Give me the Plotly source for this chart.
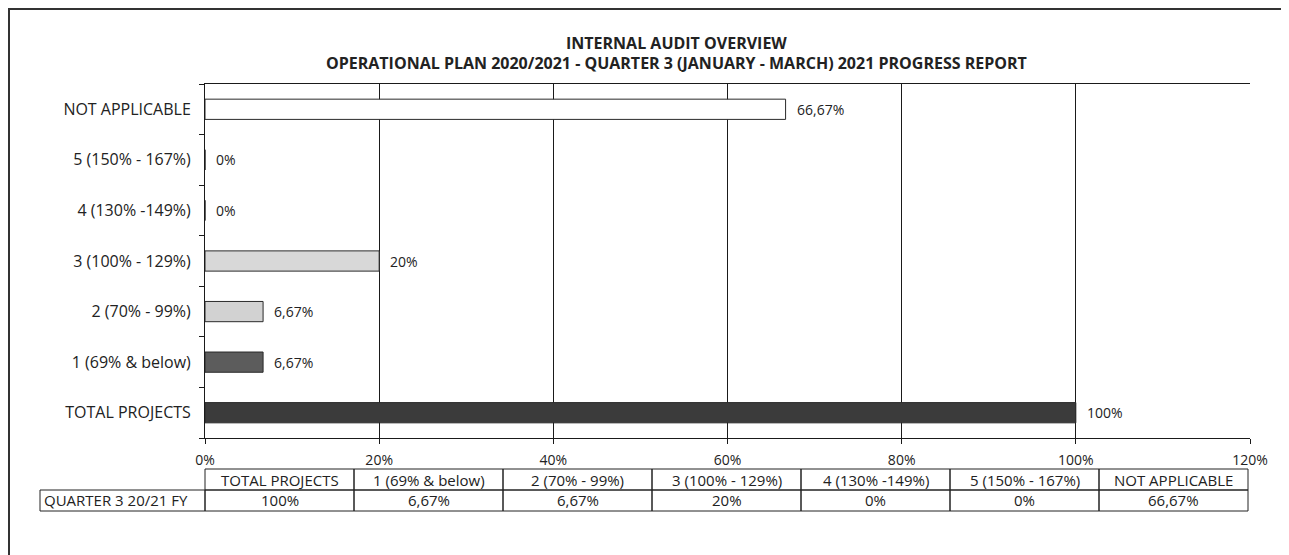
import plotly.graph_objects as go

# chart data (bottom to top on the y axis)
categories = [
    "TOTAL PROJECTS",
    "1 (69% & below)",
    "2 (70% - 99%)",
    "3 (100% - 129%)",
    "4 (130% -149%)",
    "5 (150% - 167%)",
    "NOT APPLICABLE",
]
values = [100, 6.67, 6.67, 20, 0, 0, 66.67]
value_labels = ["100%", "6,67%", "6,67%", "20%", "0%", "0%", "66,67%"]
bar_colors = ["#3b3b3b", "#5c5c5c", "#d2d2d2", "#d8d8d8", "#ffffff", "#ffffff", "#ffffff"]

x_ticks = [0, 20, 40, 60, 80, 100, 120]
x_tick_labels = ["0%", "20%", "40%", "60%", "80%", "100%", "120%"]

table_row_name = "QUARTER 3 20/21 FY"
table_headers = categories
table_values = value_labels

title_lines = [
    "INTERNAL AUDIT OVERVIEW",
    "OPERATIONAL PLAN 2020/2021 - QUARTER 3 (JANUARY - MARCH) 2021 PROGRESS REPORT",
]

W, H = 1281, 547
OFF = 8  # page body margin, screen px = figure px + OFF
# plot area in screen pixels
SL, SR, ST, SB = 205, 1250, 84, 438
FONT = "Open Sans"
INK = "#222"


def px_x(px):
    return (px - SL) / (SR - SL)


def px_y(py):
    return (SB - py) / (SB - ST)


fig = go.Figure()
fig.add_trace(
    go.Bar(
        y=categories,
        x=values,
        orientation="h",
        marker=dict(color=bar_colors, line=dict(color="#2a2a2a", width=1)),
        width=0.4,
        hoverinfo="x+y",
    )
)

# value labels next to the bar ends
for cat, val, lab in zip(categories, values, value_labels):
    fig.add_annotation(
        x=val, y=cat, text=lab, showarrow=False,
        xanchor="left", yanchor="middle", xshift=9,
        font=dict(size=14, color=INK),
    )

fig.update_layout(
    width=W,
    height=H,
    margin=dict(l=SL - OFF, r=W - (SR - OFF), t=ST - OFF, b=H - (SB - OFF), autoexpand=False),
    plot_bgcolor="white",
    paper_bgcolor="white",
    showlegend=False,
    font=dict(family=FONT, size=13, color=INK),
    xaxis=dict(
        range=[0, 120],
        tickvals=x_ticks,
        ticktext=x_tick_labels,
        showgrid=True,
        gridcolor="#1a1a1a",
        gridwidth=1,
        showline=True,
        linecolor="#1a1a1a",
        mirror=True,
        ticks="outside",
        ticklen=5,
        tickcolor="#1a1a1a",
        ticklabelstandoff=4,
        tickfont=dict(size=14, color=INK),
        zeroline=False,
        fixedrange=True,
    ),
    yaxis=dict(
        categoryorder="array",
        categoryarray=categories,
        showline=True,
        linecolor="#1a1a1a",
        ticks="outside",
        tickson="boundaries",
        ticklen=5,
        tickcolor="#1a1a1a",
        ticklabelstandoff=10,
        tickfont=dict(size=16, color=INK),
        showgrid=False,
        fixedrange=True,
    ),
)

# title
for i, line in enumerate(title_lines):
    fig.add_annotation(
        x=px_x(676),
        y=px_y(43 + 20 * i),
        xref="paper",
        yref="paper",
        xanchor="center",
        yanchor="middle",
        text="<b>" + line + "</b>",
        showarrow=False,
        font=dict(size=16, color=INK),
    )

# outer chart border
fig.add_shape(
    type="rect",
    xref="paper",
    yref="paper",
    x0=px_x(9),
    x1=px_x(1283),
    y0=px_y(570),
    y1=px_y(9),
    line=dict(color="#333", width=2),
)

# data table beneath the axis
col_w = (1248 - SL) / len(table_headers)
row1_top, row1_bot, row2_bot = 469, 490, 511
label_left = 40
line_style = dict(color=INK, width=1)
cell_font = dict(size=15, color=INK)

for i, (head, val) in enumerate(zip(table_headers, table_values)):
    x0 = SL + i * col_w
    x1 = x0 + col_w
    fig.add_shape(type="rect", xref="paper", yref="paper",
                  x0=px_x(x0), x1=px_x(x1), y0=px_y(row1_bot), y1=px_y(row1_top),
                  line=line_style)
    fig.add_shape(type="rect", xref="paper", yref="paper",
                  x0=px_x(x0), x1=px_x(x1), y0=px_y(row2_bot), y1=px_y(row1_bot),
                  line=line_style)
    fig.add_annotation(x=px_x((x0 + x1) / 2), y=px_y((row1_top + row1_bot) / 2),
                       xref="paper", yref="paper", xanchor="center", yanchor="middle",
                       text=head, showarrow=False, font=cell_font)
    fig.add_annotation(x=px_x((x0 + x1) / 2), y=px_y((row1_bot + row2_bot) / 2),
                       xref="paper", yref="paper", xanchor="center", yanchor="middle",
                       text=val, showarrow=False, font=cell_font)

fig.add_shape(type="rect", xref="paper", yref="paper",
              x0=px_x(label_left), x1=px_x(SL), y0=px_y(row2_bot), y1=px_y(row1_bot),
              line=line_style)
fig.add_annotation(x=px_x(label_left + 2), y=px_y((row1_bot + row2_bot) / 2),
                   xref="paper", yref="paper", xanchor="left", yanchor="middle",
                   text=table_row_name, showarrow=False, font=cell_font)

fig.write_html("out.html")
